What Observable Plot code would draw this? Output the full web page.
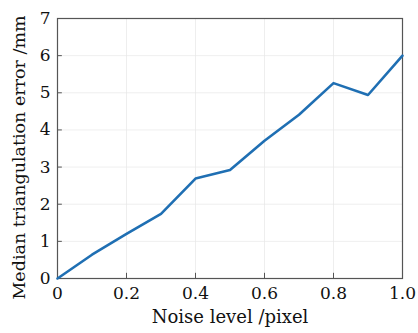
<!DOCTYPE html>
<html><head><meta charset="utf-8">
<script src="https://cdn.jsdelivr.net/npm/d3@7"></script>
<script src="https://cdn.jsdelivr.net/npm/@observablehq/plot@0.6"></script>
<style>
html,body{margin:0;padding:0;background:#fff;}
svg{display:block;}
</style>
</head><body>
<div id="chart"></div>
<script>
const noise = [0, 0.1, 0.2, 0.3, 0.4, 0.5, 0.6, 0.7, 0.8, 0.9, 1.0];
const errorMm = [0, 0.64, 1.2, 1.74, 2.69, 2.92, 3.71, 4.41, 5.26, 4.94, 6.0];
const xTicks = [0, 0.2, 0.4, 0.6, 0.8, 1.0];
const xTickLabels = ["0", "0.2", "0.4", "0.6", "0.8", "1.0"];
const yTicks = [0, 1, 2, 3, 4, 5, 6, 7];
const xLabel = "Noise level /pixel";
const yLabel = "Median triangulation error /mm";

const data = noise.map((x, i) => ({x, y: errorMm[i]}));
const font = "'DejaVu Serif', serif";

const chart = Plot.plot({
  width: 418,
  height: 333,
  marginLeft: 57,
  marginRight: 16,
  marginTop: 18,
  marginBottom: 55,
  style: {fontFamily: font, fontSize: "17px", color: "#111", background: "#fff"},
  x: {type: "linear", domain: [0, 1], ticks: xTicks},
  y: {type: "linear", domain: [0, 7], ticks: yTicks},
  marks: [
    Plot.gridX(xTicks, {stroke: "#e6e6e6", strokeOpacity: 1, strokeWidth: 0.7}),
    Plot.gridY(yTicks, {stroke: "#e6e6e6", strokeOpacity: 1, strokeWidth: 0.7}),
    Plot.axisX(xTicks, {tickSize: 0, tickPadding: 8, tickFormat: (d, i) => xTickLabels[i], fontSize: 17, label: null}),
    Plot.axisY(yTicks, {tickSize: 0, tickPadding: 7, fontSize: 17, label: null}),
    Plot.ruleX(xTicks, {x: d => d, y1: 0, y2: 0.14, stroke: "#555"}),
    Plot.ruleY(yTicks, {y: d => d, x1: 0, x2: 0.014, stroke: "#555"}),
    Plot.frame({stroke: "#555", strokeWidth: 1.2}),
    Plot.line(data, {x: "x", y: "y", stroke: "#1f6fb3", strokeWidth: 2.6}),
    Plot.text([xLabel], {frameAnchor: "bottom", dy: 44, fontSize: 18, text: d => d, fill: "#111"}),
    Plot.text([yLabel], {frameAnchor: "left", textAnchor: "middle", dx: -38, dy: 9, rotate: -90, fontSize: 17.5, text: d => d, fill: "#111"})
  ]
});
document.getElementById("chart").append(chart);
</script>
</body></html>
